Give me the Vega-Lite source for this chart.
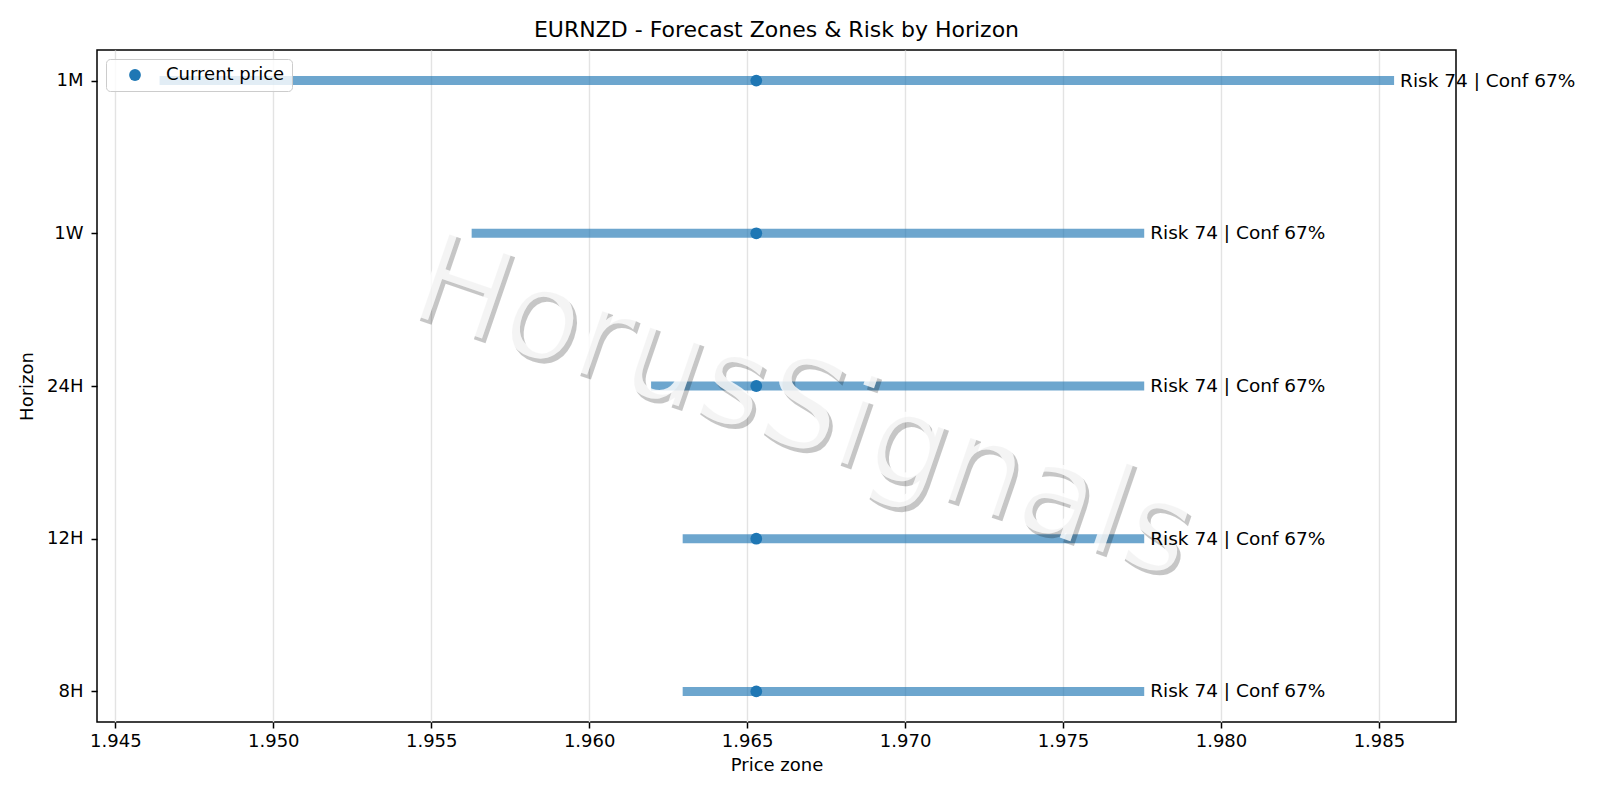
{
  "$schema": "https://vega.github.io/schema/vega-lite/v6.json",
  "width": 1359,
  "height": 672,
  "autosize": {"type": "none"},
  "padding": {"left": 97, "top": 50, "right": 144, "bottom": 78},
  "background": "white",
  "title": {"text": "EURNZD - Forecast Zones & Risk by Horizon", "fontSize": 22, "fontWeight": "normal", "color": "#000000", "offset": 8, "font": "DejaVu Sans"},
  "config": {
    "font": "DejaVu Sans",
    "view": {"stroke": "#000000", "strokeWidth": 1.5},
    "axis": {
      "domain": false,
      "tickColor": "#000000",
      "tickWidth": 1.5,
      "tickSize": 6,
      "labelFontSize": 18,
      "labelColor": "#000000",
      "titleFontSize": 18,
      "titleFontWeight": "normal",
      "titleColor": "#000000",
      "labelFont": "DejaVu Sans",
      "titleFont": "DejaVu Sans"
    },
    "legend": {
      "orient": "top-left",
      "offset": 9,
      "padding": 7,
      "fillColor": "rgba(255,255,255,0.8)",
      "strokeColor": "#cccccc",
      "cornerRadius": 4,
      "labelFontSize": 18,
      "labelColor": "#000000",
      "labelFont": "DejaVu Sans",
      "symbolSize": 139,
      "symbolOffset": 13,
      "labelOffset": 22
    }
  },
  "datasets": {
    "zones": [
      {"horizon": "1M", "low": 1.9464, "high": 1.98548, "current": 1.96529, "label": "Risk 74 | Conf 67%"},
      {"horizon": "1W", "low": 1.95628, "high": 1.97757, "current": 1.96529, "label": "Risk 74 | Conf 67%"},
      {"horizon": "24H", "low": 1.96196, "high": 1.97757, "current": 1.96529, "label": "Risk 74 | Conf 67%"},
      {"horizon": "12H", "low": 1.96296, "high": 1.97757, "current": 1.96529, "label": "Risk 74 | Conf 67%"},
      {"horizon": "8H", "low": 1.96296, "high": 1.97757, "current": 1.96529, "label": "Risk 74 | Conf 67%"}
    ],
    "watermark": [
      {"text": "HorusSignals", "price": 1.96700, "horizon": "24H"}
    ]
  },
  "layer": [
    {
      "data": {"name": "zones"},
      "mark": {"type": "rule", "strokeWidth": 9, "color": "#1f77b4", "opacity": 0.65, "strokeCap": "butt"},
      "encoding": {
        "x": {"field": "low", "type": "quantitative",
              "scale": {"domain": [1.94442, 1.98744], "nice": false, "zero": false},
              "axis": {"values": [1.945, 1.95, 1.955, 1.96, 1.965, 1.97, 1.975, 1.98, 1.985], "format": ".3f", "title": "Price zone", "grid": true, "gridColor": "#e3e3e3", "gridWidth": 1.4, "labelPadding": 4, "titlePadding": 6}},
        "x2": {"field": "high"},
        "y": {"field": "horizon", "type": "nominal",
              "scale": {"type": "point", "padding": 0.2, "domain": ["1M", "1W", "24H", "12H", "8H"]},
              "axis": {"title": "Horizon", "grid": false, "labelPadding": 8, "titlePadding": 10}}
      }
    },
    {
      "data": {"name": "watermark"},
      "mark": {"type": "text", "fontSize": 125, "angle": 19, "align": "center", "baseline": "middle", "dx": 5, "dy": 27.5, "color": "#000000", "opacity": 0.22, "font": "DejaVu Sans"},
      "encoding": {
        "x": {"field": "price", "type": "quantitative"},
        "y": {"field": "horizon", "type": "nominal"},
        "text": {"field": "text"}
      }
    },
    {
      "data": {"name": "watermark"},
      "mark": {"type": "text", "fontSize": 125, "angle": 19, "align": "center", "baseline": "middle", "dy": 24, "color": "#ffffff", "opacity": 0.82, "font": "DejaVu Sans"},
      "encoding": {
        "x": {"field": "price", "type": "quantitative"},
        "y": {"field": "horizon", "type": "nominal"},
        "text": {"field": "text"}
      }
    },
    {
      "data": {"name": "zones"},
      "mark": {"type": "point", "filled": true, "shape": "circle", "size": 139, "opacity": 1},
      "encoding": {
        "x": {"field": "current", "type": "quantitative"},
        "y": {"field": "horizon", "type": "nominal"},
        "color": {"datum": "Current price", "type": "nominal", "scale": {"range": ["#1f77b4"]}, "legend": {"title": null}}
      }
    },
    {
      "data": {"name": "zones"},
      "mark": {"type": "text", "align": "left", "baseline": "middle", "dx": 6, "fontSize": 18.5, "color": "#000000", "font": "DejaVu Sans"},
      "encoding": {
        "x": {"field": "high", "type": "quantitative"},
        "y": {"field": "horizon", "type": "nominal"},
        "text": {"field": "label"}
      }
    }
  ]
}
